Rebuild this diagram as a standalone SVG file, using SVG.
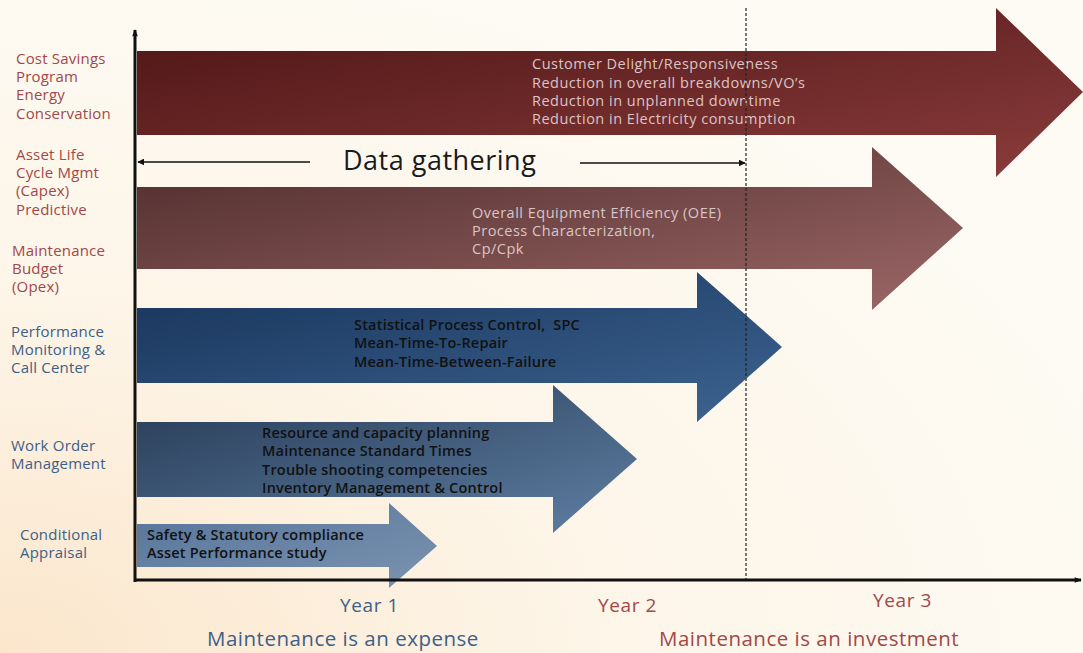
<svg xmlns="http://www.w3.org/2000/svg" width="1083" height="653" viewBox="0 0 1083 653">
<defs>
<radialGradient id="bg" cx="0" cy="1" r="1.1">
<stop offset="0" stop-color="#fbe6cc"/>
<stop offset="0.5" stop-color="#fdf5e8"/>
<stop offset="1" stop-color="#fdfbf4"/>
</radialGradient>
<linearGradient id="g1" x1="0" y1="0" x2="1" y2="1">
<stop offset="0" stop-color="#4c1414"/>
<stop offset="1" stop-color="#8b3c3c"/>
</linearGradient>
<linearGradient id="g2" x1="0" y1="0" x2="1" y2="1">
<stop offset="0" stop-color="#4f2c2c"/>
<stop offset="1" stop-color="#9c6767"/>
</linearGradient>
<linearGradient id="g3" x1="0" y1="0" x2="1" y2="1">
<stop offset="0" stop-color="#17335a"/>
<stop offset="1" stop-color="#3d6491"/>
</linearGradient>
<linearGradient id="g4" x1="0" y1="0" x2="1" y2="1">
<stop offset="0" stop-color="#263a55"/>
<stop offset="1" stop-color="#5f7fa3"/>
</linearGradient>
<linearGradient id="g5" x1="0" y1="0" x2="1" y2="1">
<stop offset="0" stop-color="#56749a"/>
<stop offset="1" stop-color="#7b93b0"/>
</linearGradient>
<marker id="ah" viewBox="0 0 10 10" refX="9" refY="5" markerWidth="7" markerHeight="7" orient="auto-start-reverse" markerUnits="userSpaceOnUse">
<path d="M0,0 L10,5 L0,10 z" fill="#111"/>
</marker>
<marker id="ahs" viewBox="0 0 10 10" refX="9" refY="5" markerWidth="9" markerHeight="7" orient="auto-start-reverse" markerUnits="userSpaceOnUse">
<path d="M0,1 L10,5 L0,9 z" fill="#111"/>
</marker>
</defs>
<style>
.lbl{font-family:"Open Sans","Liberation Sans",sans-serif;font-size:15px;letter-spacing:0.2px}
.red{fill:#a24848}
.blue{fill:#3e5f86}
.at{font-family:"Open Sans","Liberation Sans",sans-serif;font-size:14.5px;letter-spacing:0.5px}
.light1{fill:#dcc4c4}
.light2{fill:#d8c6c6}
.dark{fill:#111;font-weight:600;letter-spacing:0.2px}
.yr{font-family:"Open Sans","Liberation Sans",sans-serif;font-size:19px;letter-spacing:0.6px}
.foot{font-family:"Open Sans","Liberation Sans",sans-serif;font-size:20.5px;letter-spacing:0.5px}
.axis{stroke:#111;stroke-width:3;fill:none}
</style>
<rect width="1083" height="653" fill="url(#bg)"/>

<g id="labels">
<text class="lbl red" x="16" y="64">Cost Savings</text>
<text class="lbl red" x="16" y="82">Program</text>
<text class="lbl red" x="16" y="100">Energy</text>
<text class="lbl red" x="16" y="119">Conservation</text>
<text class="lbl red" x="16" y="160">Asset Life</text>
<text class="lbl red" x="16" y="178">Cycle Mgmt</text>
<text class="lbl red" x="16" y="196">(Capex)</text>
<text class="lbl red" x="16" y="215">Predictive</text>
<text class="lbl red" x="12" y="256">Maintenance</text>
<text class="lbl red" x="12" y="274">Budget</text>
<text class="lbl red" x="12" y="292">(Opex)</text>
<text class="lbl blue" x="11" y="337">Performance</text>
<text class="lbl blue" x="11" y="355">Monitoring &amp;</text>
<text class="lbl blue" x="11" y="373">Call Center</text>
<text class="lbl blue" x="11" y="451">Work Order</text>
<text class="lbl blue" x="11" y="469">Management</text>
<text class="lbl blue" x="20" y="540">Conditional</text>
<text class="lbl blue" x="20" y="558">Appraisal</text>
</g>

<g id="arrow1">
<path d="M137,51 H996 V8 L1083,92 L996,177 V135 H137 Z" fill="url(#g1)"/>
<text class="at light1" x="532" y="69">Customer Delight/Responsiveness</text>
<text class="at light1" x="532" y="88">Reduction in overall breakdowns/VO’s</text>
<text class="at light1" x="532" y="106">Reduction in unplanned downtime</text>
<text class="at light1" x="532" y="124">Reduction in Electricity consumption</text>
</g>

<g id="arrow2">
<path d="M137,187 H872 V147 L963,228 L872,310 V269 H137 Z" fill="url(#g2)"/>
<text class="at light2" x="472" y="218">Overall Equipment Efficiency (OEE)</text>
<text class="at light2" x="472" y="236">Process Characterization,</text>
<text class="at light2" x="472" y="254">Cp/Cpk</text>
</g>

<g id="arrow3">
<path d="M137,308 H697 V272 L782,347 L697,422 V383 H137 Z" fill="url(#g3)"/>
<text class="at dark" x="354" y="330" xml:space="preserve">Statistical Process Control,  SPC</text>
<text class="at dark" x="354" y="348">Mean-Time-To-Repair</text>
<text class="at dark" x="354" y="367">Mean-Time-Between-Failure</text>
</g>

<g id="arrow4">
<path d="M137,422 H553 V385 L637,459 L553,533 V497 H137 Z" fill="url(#g4)"/>
<text class="at dark" x="262" y="438">Resource and capacity planning</text>
<text class="at dark" x="262" y="456">Maintenance Standard Times</text>
<text class="at dark" x="262" y="475">Trouble shooting competencies</text>
<text class="at dark" x="262" y="493">Inventory Management &amp; Control</text>
</g>

<g id="arrow5">
<path d="M137,524 H389 V503 L437,546 L389,588 V567 H137 Z" fill="url(#g5)"/>
<text class="at dark" x="147" y="540">Safety &amp; Statutory compliance</text>
<text class="at dark" x="147" y="558">Asset Performance study</text>
</g>

<g id="connectors">
<line x1="135" y1="582" x2="135" y2="30" class="axis" marker-end="url(#ahs)"/>
<line x1="134" y1="580" x2="1081" y2="580" class="axis" marker-end="url(#ahs)"/>
<line x1="746" y1="8" x2="746" y2="579" stroke="#222" stroke-width="1.2" stroke-dasharray="3,2"/>
<line x1="310" y1="162" x2="138" y2="162" stroke="#111" stroke-width="1.3" marker-end="url(#ah)"/>
<line x1="580" y1="163" x2="745" y2="163" stroke="#111" stroke-width="1.3" marker-end="url(#ah)"/>
</g>

<g id="data-gathering">
<text x="343" y="170" font-family="Open Sans, Liberation Sans, sans-serif" font-size="27" letter-spacing="0.5" fill="#1a1a1a">Data gathering</text>
</g>

<g id="years">
<text class="yr blue" x="340" y="612">Year 1</text>
<text class="yr red" x="598" y="612">Year 2</text>
<text class="yr red" x="873" y="607">Year 3</text>
<text class="foot blue" x="207" y="646">Maintenance is an expense</text>
<text class="foot red" x="659" y="646">Maintenance is an investment</text>
</g>
</svg>
